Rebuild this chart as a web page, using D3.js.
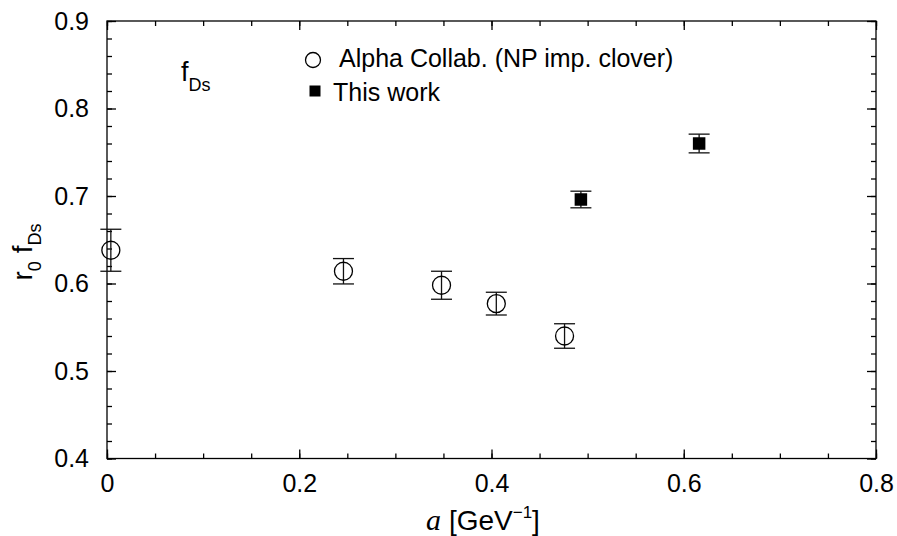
<!DOCTYPE html>
<html>
<head>
<meta charset="utf-8">
<script src="https://cdn.jsdelivr.net/npm/d3@7"></script>
<style>
  body { margin: 0; background: #fff; }
  svg { font-family: "Liberation Sans", Arial, Helvetica, sans-serif; }
</style>
</head>
<body>
<svg id="chart" width="897" height="536"></svg>
<script>
// Alpha Collab. (NP imp. clover)
const alphaA = [0.004, 0.246, 0.348, 0.405, 0.476];
const alphaF = [0.638, 0.614, 0.598, 0.577, 0.540];
const alphaErr = [0.024, 0.0145, 0.016, 0.013, 0.014];

// This work
const thisA = [0.493, 0.616];
const thisF = [0.696, 0.760];
const thisErr = [0.0095, 0.0107];

const xTicks = [0, 0.2, 0.4, 0.6, 0.8];
const yTicks = [0.4, 0.5, 0.6, 0.7, 0.8, 0.9];
const xMinor = d3.range(0, 0.8001, 0.05);
const yMinor = d3.range(0.4, 0.9001, 0.02);

const width = 897, height = 536;
const margin = { top: 21, right: 21, bottom: 77.5, left: 107 };

const svg = d3.select("#chart");

const x = d3.scaleLinear().domain([0, 0.8]).range([margin.left, width - margin.right]);
const y = d3.scaleLinear().domain([0.4, 0.9]).range([height - margin.bottom, margin.top]);

const fmt = d => d === 0 ? "0" : d3.format(".1f")(d);

// major + minor ticks on all four sides, pointing inward
function addAxis(axisFn, scale, ticks, size, transform, labels, pad) {
  const g = svg.append("g")
    .attr("transform", transform)
    .call(axisFn(scale).tickValues(ticks).tickSizeInner(-size).tickSizeOuter(0)
      .tickPadding(pad || 0).tickFormat(labels ? fmt : ""));
  g.select(".domain").remove();
  g.selectAll(".tick line").attr("stroke", "#000").attr("stroke-width", 1.3);
  g.selectAll(".tick text").attr("fill", "#000").attr("font-size", 25);
  return g;
}

const bottomY = height - margin.bottom;
const rightX = width - margin.right;

addAxis(d3.axisBottom, x, xMinor, 5, `translate(0,${bottomY})`, false);
addAxis(d3.axisBottom, x, xTicks, 9, `translate(0,${bottomY})`, true, 16);
addAxis(d3.axisTop, x, xMinor, 5, `translate(0,${margin.top})`, false);
addAxis(d3.axisTop, x, xTicks, 9, `translate(0,${margin.top})`, false);
addAxis(d3.axisLeft, y, yMinor, 5, `translate(${margin.left},0)`, false);
addAxis(d3.axisLeft, y, yTicks, 9, `translate(${margin.left},0)`, true, 18);
addAxis(d3.axisRight, y, yMinor, 5, `translate(${rightX},0)`, false);
addAxis(d3.axisRight, y, yTicks, 9, `translate(${rightX},0)`, false);

// frame
svg.append("rect")
  .attr("x", margin.left).attr("y", margin.top)
  .attr("width", rightX - margin.left).attr("height", bottomY - margin.top)
  .attr("fill", "none").attr("stroke", "#000").attr("stroke-width", 1.3);

// error bars
const capHalf = 10.5;
function errorBars(as, fs, es) {
  const g = svg.append("g").attr("stroke", "#111").attr("stroke-width", 1.3);
  as.forEach((a, i) => {
    const cx = x(a), top = y(fs[i] + es[i]), bot = y(fs[i] - es[i]);
    g.append("line").attr("x1", cx).attr("x2", cx).attr("y1", top).attr("y2", bot);
    g.append("line").attr("x1", cx - capHalf).attr("x2", cx + capHalf).attr("y1", top).attr("y2", top);
    g.append("line").attr("x1", cx - capHalf).attr("x2", cx + capHalf).attr("y1", bot).attr("y2", bot);
  });
}
errorBars(alphaA, alphaF, alphaErr);
errorBars(thisA, thisF, thisErr);

svg.append("g").selectAll("circle")
  .data(alphaA)
  .enter().append("circle")
  .attr("cx", (d) => x(d))
  .attr("cy", (d, i) => y(alphaF[i]))
  .attr("r", 9)
  .attr("fill", "none")
  .attr("stroke", "#000")
  .attr("stroke-width", 1.3);

const sq = 12.5;
svg.append("g").selectAll("rect")
  .data(thisA)
  .enter().append("rect")
  .attr("x", (d) => x(d) - sq / 2)
  .attr("y", (d, i) => y(thisF[i]) - sq / 2)
  .attr("width", sq).attr("height", sq)
  .attr("fill", "#000");

// legend
svg.append("circle").attr("cx", 313).attr("cy", 60).attr("r", 7.5)
  .attr("fill", "none").attr("stroke", "#000").attr("stroke-width", 1.3);
svg.append("text").attr("x", 339).attr("y", 67).attr("font-size", 25)
  .text("Alpha Collab. (NP imp. clover)");
svg.append("rect").attr("x", 309.5).attr("y", 85.5).attr("width", 11).attr("height", 11)
  .attr("fill", "#000");
svg.append("text").attr("x", 333).attr("y", 101).attr("font-size", 25)
  .text("This work");

// f_Ds label
const lab = svg.append("text").attr("x", 181).attr("y", 81).attr("font-size", 27);
lab.append("tspan").text("f");
lab.append("tspan").attr("dy", 10).attr("font-size", 18).text("Ds");

// x-axis title
const xt = svg.append("text").attr("x", 483).attr("y", 530)
  .attr("text-anchor", "middle").attr("font-size", 28);
xt.append("tspan").attr("font-family", "'Liberation Serif', 'Times New Roman', serif")
  .attr("font-style", "italic").attr("font-size", 30).text("a");
xt.append("tspan").text(" [GeV");
xt.append("tspan").attr("dy", -12).attr("font-size", 17).text("\u22121");
xt.append("tspan").attr("dy", 12).text("]");

// y-axis title
const yt = svg.append("text")
  .attr("transform", "translate(32,252) rotate(-90)")
  .attr("text-anchor", "middle").attr("font-size", 28);
yt.append("tspan").text("r");
yt.append("tspan").attr("dy", 9).attr("font-size", 18).text("0");
yt.append("tspan").attr("dy", -9).text(" f");
yt.append("tspan").attr("dy", 9).attr("font-size", 18).text("Ds");
</script>
</body>
</html>
